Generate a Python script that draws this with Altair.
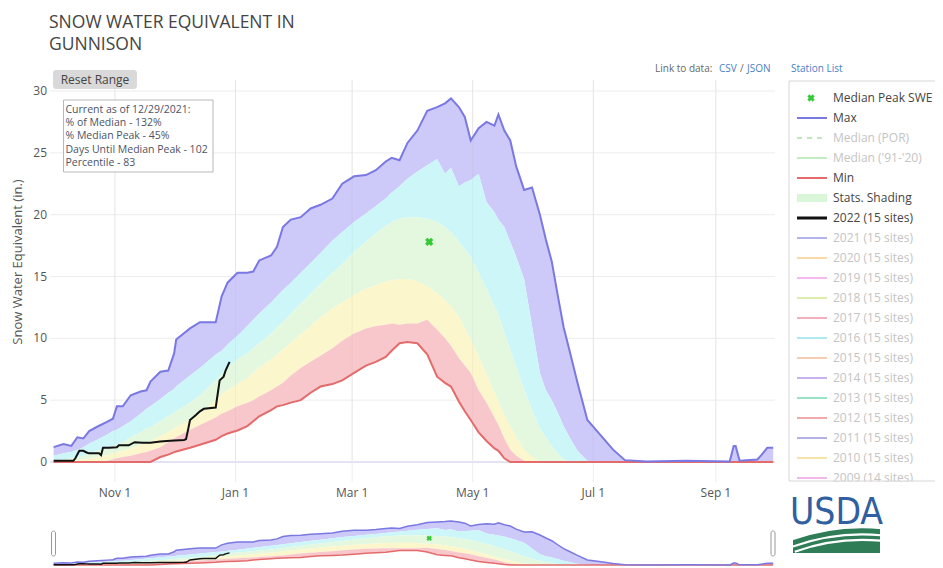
import math
import altair as alt
import pandas as pd

# ------------------------------------------------------------------ data
START = pd.Timestamp("2021-10-01")   # day 0 of the water year

days = [
    0, 5, 9, 12, 15, 18, 22, 27, 30, 32,
    35, 39, 44, 47, 49, 54, 58, 61, 62, 69,
    74, 82, 85, 88, 93, 98, 101, 104, 110, 113,
    116, 120, 125, 130, 135, 141, 146, 152, 158, 163,
    168, 171, 175, 179, 184, 189, 194, 198, 201, 205,
    208, 211, 215, 219, 223, 225, 228, 231, 234, 238,
    242, 246, 249, 252, 255, 258, 261, 265, 270, 276,
    283, 289, 300, 320, 342, 344, 345, 347, 356, 358,
    361, 364,
]
max_swe = [
    1.2, 1.45, 1.3, 2.0, 1.9, 2.5, 2.85, 3.25, 3.5, 4.5,
    4.5, 5.4, 5.7, 5.8, 6.5, 7.3, 7.4, 8.8, 9.9, 10.8,
    11.3, 11.3, 13.4, 14.5, 15.3, 15.3, 15.4, 16.3, 16.7, 17.4,
    19.0, 19.6, 19.8, 20.5, 20.8, 21.3, 22.5, 23.1, 23.2, 23.6,
    24.3, 24.6, 24.4, 25.8, 26.8, 28.4, 28.7, 29.0, 29.4, 28.7,
    27.9, 26.0, 27.0, 27.5, 27.2, 28.1, 26.8, 26.0, 23.9, 22.0,
    22.2, 20.0, 18.0, 16.2, 13.5, 10.9, 9.0, 6.4, 3.4, 2.3,
    1.0, 0.15, 0.05, 0.1, 0.05, 1.3, 1.3, 0.1, 0.2, 0.55,
    1.15, 1.15,
]
p90 = [
    0.5, 0.7, 0.8, 1.0, 1.2, 1.5, 1.8, 2.2, 2.5, 2.6,
    2.9, 3.3, 3.9, 4.3, 4.5, 5.1, 5.6, 5.9, 6.1, 7.0,
    7.6, 8.7, 9.0, 9.5, 10.2, 11.0, 11.5, 12.0, 12.9, 13.4,
    13.9, 14.5, 15.3, 16.1, 16.9, 17.9, 18.6, 19.4, 20.1, 20.7,
    21.3, 21.8, 22.3, 22.9, 23.5, 24.0, 24.5, 23.3, 23.8, 22.3,
    22.6, 22.8, 23.3, 21.0, 20.2, 19.6, 19.0, 17.8, 16.6, 14.8,
    11.0, 7.2, 5.8, 5.0, 4.0, 2.9, 2.0, 0.9, 0.1, 0.0,
    0.0, 0.0, 0.0, 0.0, 0.0, 0.0, 0.0, 0.0, 0.0, 0.0,
    0.0, 0.0,
]
p70 = [
    0.1, 0.2, 0.3, 0.4, 0.5, 0.7, 0.9, 1.1, 1.3, 1.4,
    1.6, 2.0, 2.4, 2.7, 2.8, 3.3, 3.7, 4.0, 4.1, 4.8,
    5.4, 6.6, 7.1, 7.6, 8.3, 8.8, 9.2, 9.6, 10.4, 10.9,
    11.3, 12.0, 12.8, 13.6, 14.4, 15.3, 16.0, 17.0, 17.8, 18.5,
    19.1, 19.4, 19.7, 19.8, 19.8, 19.7, 19.4, 19.0, 18.6, 17.8,
    17.2, 16.6, 15.3, 14.0, 12.6, 11.9, 10.5, 9.1, 7.7, 5.9,
    4.2, 2.7, 2.0, 1.3, 0.7, 0.2, 0.0, 0.0, 0.0, 0.0,
    0.0, 0.0, 0.0, 0.0, 0.0, 0.0, 0.0, 0.0, 0.0, 0.0,
    0.0, 0.0,
]
p30 = [
    0.0, 0.05, 0.1, 0.15, 0.2, 0.3, 0.4, 0.55, 0.7, 0.8,
    0.9, 1.1, 1.4, 1.6, 1.7, 2.1, 2.4, 2.7, 2.8, 3.4,
    3.9, 5.0, 5.5, 5.8, 6.3, 6.8, 7.2, 7.6, 8.3, 8.7,
    9.1, 9.6, 10.3, 11.0, 11.7, 12.4, 12.9, 13.5, 14.0, 14.3,
    14.6, 14.7, 14.8, 14.8, 14.6, 14.2, 13.6, 13.1, 12.6, 11.7,
    10.8, 9.9, 8.5, 7.1, 5.6, 4.9, 3.8, 2.9, 2.0, 1.0,
    0.4, 0.0, 0.0, 0.0, 0.0, 0.0, 0.0, 0.0, 0.0, 0.0,
    0.0, 0.0, 0.0, 0.0, 0.0, 0.0, 0.0, 0.0, 0.0, 0.0,
    0.0, 0.0,
]
p10 = [
    0.0, 0.0, 0.0, 0.0, 0.0, 0.0, 0.0, 0.1, 0.2, 0.3,
    0.4, 0.5, 0.7, 0.8, 0.9, 1.2, 1.6, 1.9, 2.0, 2.6,
    3.0, 3.6, 3.9, 4.1, 4.5, 4.8, 5.0, 5.3, 5.8, 6.1,
    6.4, 7.0, 7.6, 8.1, 8.6, 9.2, 9.8, 10.4, 10.8, 11.0,
    11.1, 11.2, 11.1, 11.2, 11.2, 11.5, 10.7, 10.0, 9.4, 8.4,
    7.8, 7.2, 5.8, 4.8, 3.6, 3.0, 1.9, 1.0, 0.5, 0.1,
    0.0, 0.0, 0.0, 0.0, 0.0, 0.0, 0.0, 0.0, 0.0, 0.0,
    0.0, 0.0, 0.0, 0.0, 0.0, 0.0, 0.0, 0.0, 0.0, 0.0,
    0.0, 0.0,
]
min_swe = [
    0.0, 0.0, 0.0, 0.0, 0.0, 0.0, 0.0, 0.0, 0.0, 0.0,
    0.0, 0.0, 0.0, 0.0, 0.0, 0.4, 0.6, 0.8, 0.85, 1.15,
    1.4, 1.8, 2.1, 2.3, 2.55, 2.9, 3.3, 3.7, 4.2, 4.5,
    4.6, 4.8, 5.0, 5.6, 6.1, 6.3, 6.6, 7.2, 7.8, 8.1,
    8.5, 9.0, 9.6, 9.7, 9.6, 8.7, 6.9, 6.4, 6.1, 4.9,
    4.1, 3.4, 2.4, 1.7, 1.1, 0.9, 0.3, 0.0, 0.0, 0.0,
    0.0, 0.0, 0.0, 0.0, 0.0, 0.0, 0.0, 0.0, 0.0, 0.0,
    0.0, 0.0, 0.0, 0.0, 0.0, 0.0, 0.0, 0.0, 0.0, 0.0,
    0.0, 0.0,
]

wy2022_days = [0, 10, 11, 13, 15, 17, 18, 23, 24, 25, 28, 32, 33, 38, 41, 45,
               49, 54, 59, 66, 67, 68, 69, 72, 74, 76, 82, 83, 84, 86, 87, 89]
wy2022_swe = [0.1, 0.1, 0.3, 0.9, 0.9, 0.75, 0.7, 0.7, 0.55, 1.15, 1.15, 1.2,
              1.35, 1.35, 1.6, 1.55, 1.55, 1.65, 1.72, 1.78, 1.85, 2.6, 3.4,
              3.8, 4.1, 4.3, 4.4, 5.5, 6.6, 6.9, 7.4, 8.1]

peak_day = [190]
peak_swe = [17.8]

y_ticks = [0, 5, 10, 15, 20, 25, 30]
x_tick_dates = ["2021-11-01", "2022-01-01", "2022-03-01", "2022-05-01", "2022-07-01", "2022-09-01"]
x_tick_labels = ["Nov 1", "Jan 1", "Mar 1", "May 1", "Jul 1", "Sep 1"]

title_lines = ["SNOW WATER EQUIVALENT IN", "GUNNISON"]
info_lines = [
    "Current as of 12/29/2021:",
    "% of Median - 132%",
    "% Median Peak - 45%",
    "Days Until Median Peak - 102",
    "Percentile - 83",
]

legend_labels = [
    "Median Peak SWE", "Max", "Median (POR)", "Median ('91-'20)", "Min",
    "Stats. Shading", "2022 (15 sites)", "2021 (15 sites)", "2020 (15 sites)",
    "2019 (15 sites)", "2018 (15 sites)", "2017 (15 sites)", "2016 (15 sites)",
    "2015 (15 sites)", "2014 (15 sites)", "2013 (15 sites)", "2012 (15 sites)",
    "2011 (15 sites)", "2010 (15 sites)", "2009 (14 sites)",
]
legend_kind = ["marker", "line", "dash", "line", "line", "shade", "line",
               "line", "line", "line", "line", "line", "line", "line", "line",
               "line", "line", "line", "line", "line"]
legend_active = [True, True, False, False, True, True, True, False, False,
                 False, False, False, False, False, False, False, False,
                 False, False, False]
legend_colors = ["#36c936", "#7a78e2", "#bfe8bf", "#c2ecc2", "#e46b6b",
                 "#d9f6d9", "#111111", "#b3b3ef", "#fbd9a6", "#f5b8ef",
                 "#dbefaa", "#f2b0bd", "#ace9f1", "#f6cdb4", "#c9b2ef",
                 "#98e3c6", "#f1aaaa", "#b2b2e6", "#f5e3aa", "#f2b8eb"]

# ------------------------------------------------------------------ tables
def to_dates(ds):
    return [(START + pd.Timedelta(days=d)).strftime("%Y-%m-%dT%H:%M:%S") for d in ds]

stats = pd.DataFrame({"date": to_dates(days), "max": max_swe, "p90": p90,
                      "p70": p70, "p30": p30, "p10": p10, "min": min_swe})
cur = pd.DataFrame({"date": to_dates(wy2022_days), "swe": wy2022_swe})
peak = pd.DataFrame({"date": to_dates(peak_day), "swe": peak_swe})
ygrid = pd.DataFrame({"v": y_ticks})
xgrid = pd.DataFrame({"date": [d + "T00:00:00" for d in x_tick_dates], "label": x_tick_labels})
info = pd.DataFrame({"i": list(range(len(info_lines))), "t": info_lines})
title_df = pd.DataFrame({"i": list(range(len(title_lines))), "t": title_lines})
leg = pd.DataFrame({
    "i": list(range(len(legend_labels))),
    "label": legend_labels,
    "kind": legend_kind,
    "color": legend_colors,
    "tcolor": ["#444444" if a else "#c4c4c4" for a in legend_active],
    "w": [3 if l.startswith("2022") else 2 for l in legend_labels],
})
dummy = alt.Data(values=[{"a": 1}])

# ------------------------------------------------------------------ scales
FONT = "Open Sans"
xs = alt.Scale(domain=[alt.DateTime(year=2021, month=10, date=1),
                       alt.DateTime(year=2022, month=9, date=30)],
               range=[45.6, 765.2])
ys = alt.Scale(domain=[0, 30], range=[454, 83], nice=False, zero=False)
ys_mini = alt.Scale(domain=[0, 30], range=[557, 512], nice=False, zero=False)
ys_leg = alt.Scale(domain=[0, 19], range=[90, 470], nice=False, zero=False)
ys_info = alt.Scale(domain=[0, 4], range=[104.5, 158], nice=False, zero=False)
ys_title = alt.Scale(domain=[0, 1], range=[19.5, 42], nice=False, zero=False)

def X():
    return alt.X("date:T", scale=xs, axis=None)

def Y(field, scale):
    return alt.Y(f"{field}:Q", scale=scale, axis=None)

layers = []

# grid
layers.append(alt.Chart(ygrid).transform_filter("datum.v > 0").mark_rule(color="#ededed", strokeWidth=1)
              .encode(y=Y("v", ys), x=alt.value(42), x2=alt.value(767)))
layers.append(alt.Chart(xgrid).mark_rule(color="#ededed", strokeWidth=1)
              .encode(x=X(), y=alt.value(72), y2=alt.value(474)))
layers.append(alt.Chart(ygrid).transform_filter("datum.v == 0").mark_rule(color="#e3e3f3", strokeWidth=2)
              .encode(y=Y("v", ys), x=alt.value(42), x2=alt.value(767)))

bands = [("max", "p90", "#cdc9f8"), ("p90", "p70", "#cdf6f8"),
         ("p70", "p30", "#e3f8df"), ("p30", "p10", "#fbf6cb"),
         ("p10", "min", "#f8c7cc")]

def stat_layers(yscale, lw, msize, band_opacity):
    out = []
    for top, bot, col in bands:
        out.append(alt.Chart(stats).mark_area(color=col, opacity=band_opacity)
                   .encode(x=X(), y=Y(top, yscale), y2=alt.Y2(f"{bot}:Q")))
    out.append(alt.Chart(stats).mark_line(color="#e46b6b", strokeWidth=lw)
               .encode(x=X(), y=Y("min", yscale)))
    out.append(alt.Chart(stats).mark_line(color="#7a78e2", strokeWidth=lw)
               .encode(x=X(), y=Y("max", yscale)))
    out.append(alt.Chart(cur).mark_line(color="#111111", strokeWidth=lw)
               .encode(x=X(), y=Y("swe", yscale)))
    out.append(alt.Chart(peak).mark_point(shape="cross", angle=45, filled=True,
                                          size=msize, color="#36c936", opacity=1)
               .encode(x=X(), y=Y("swe", yscale)))
    return out

layers += stat_layers(ys, 2, 70, 1)

# faint grid showing through the shading (as in the reference)
layers.append(alt.Chart(xgrid).mark_rule(color="#aaaaaa", strokeWidth=1, opacity=0.12)
              .encode(x=X(), y=alt.value(72), y2=alt.value(452)))

# axes labels
layers.append(alt.Chart(ygrid).mark_text(align="right", baseline="middle", fontSize=12,
                                         font=FONT, color="#555555")
              .encode(y=Y("v", ys), x=alt.value(39), text="v:Q"))
layers.append(alt.Chart(xgrid).mark_text(align="center", baseline="middle", fontSize=12,
                                         font=FONT, color="#555555")
              .encode(x=X(), y=alt.value(485), text="label:N"))
layers.append(alt.Chart(dummy).mark_text(angle=270, align="center", baseline="middle",
                                         fontSize=13, font=FONT, color="#555555")
              .encode(x=alt.value(9.5), y=alt.value(254),
                      text=alt.value("Snow Water Equivalent (in.)")))

# title
layers.append(alt.Chart(title_df).mark_text(align="left", baseline="alphabetic", fontSize=17.5,
                                            font=FONT, color="#444444")
              .encode(x=alt.value(41), y=Y("i", ys_title), text="t:N"))

# reset range button
layers.append(alt.Chart(dummy).mark_rect(color="#d9d9d9", cornerRadius=3)
              .encode(x=alt.value(45), x2=alt.value(129), y=alt.value(62), y2=alt.value(81)))
layers.append(alt.Chart(dummy).mark_text(align="center", baseline="middle", fontSize=12,
                                         font=FONT, color="#444444")
              .encode(x=alt.value(87), y=alt.value(71.5), text=alt.value("Reset Range")))

# info box
layers.append(alt.Chart(dummy).mark_rect(fill="white", stroke="#b8b8b8", strokeWidth=1)
              .encode(x=alt.value(55.5), x2=alt.value(205), y=alt.value(92), y2=alt.value(164)))
layers.append(alt.Chart(info).mark_text(align="left", baseline="alphabetic", fontSize=10.5,
                                        font=FONT, color="#4d5366")
              .encode(x=alt.value(57.5), y=Y("i", ys_info), text="t:N"))

# links
link_grey = "#666666"
link_blue = "#4a80c8"
for txt, xpos, col in [("Link to data:", 647, link_grey), ("CSV", 711, link_blue),
                       ("/", 732, link_grey), ("JSON", 739, link_blue),
                       ("Station List", 783, link_blue)]:
    layers.append(alt.Chart(dummy).mark_text(align="left", baseline="middle", fontSize=10,
                                             font=FONT, color=col)
                  .encode(x=alt.value(xpos), y=alt.value(61), text=alt.value(txt)))

# USDA logo: green field with white sweeping stripes, then the letters on top
layers.append(alt.Chart(dummy).mark_rect(color="#2f7d57")
              .encode(x=alt.value(785), x2=alt.value(872), y=alt.value(519), y2=alt.value(545)))
CX, CY, R0 = 854.5, 732.0, 211.7
T1, T2 = 2 * math.pi - 0.345, 2 * math.pi + 0.09
layers.append(alt.Chart(dummy).mark_arc(innerRadius=R0, outerRadius=R0 + 40, color="white")
              .encode(x=alt.value(CX), y=alt.value(CY), theta=alt.value(T1), theta2=alt.value(T2)))
for dr in (5, 10.5):
    layers.append(alt.Chart(dummy).mark_arc(innerRadius=R0 - dr - 2.2, outerRadius=R0 - dr, color="white")
                  .encode(x=alt.value(CX), y=alt.value(CY), theta=alt.value(T1), theta2=alt.value(T2)))
layers.append(alt.Chart(dummy).mark_text(align="center", baseline="alphabetic", fontSize=37,
                                         font="Liberation Sans Narrow, DejaVu Sans Condensed, Roboto, sans-serif",
                                         color="#30609f")
              .encode(x=alt.value(828.5), y=alt.value(516), text=alt.value("USDA")))

# legend
LY = alt.Y("i:Q", scale=ys_leg, axis=None)
layers.append(alt.Chart(leg).transform_filter("datum.kind == 'line'").mark_rule()
              .encode(x=alt.value(789), x2=alt.value(819), y=LY,
                      color=alt.Color("color:N", scale=None),
                      strokeWidth=alt.StrokeWidth("w:Q", scale=None)))
layers.append(alt.Chart(leg).transform_filter("datum.kind == 'dash'").mark_rule(strokeDash=[5, 5], strokeWidth=2)
              .encode(x=alt.value(789), x2=alt.value(819), y=LY,
                      color=alt.Color("color:N", scale=None)))
layers.append(alt.Chart(leg).transform_filter("datum.kind == 'shade'").mark_rule(strokeWidth=8)
              .encode(x=alt.value(789), x2=alt.value(819), y=LY,
                      color=alt.Color("color:N", scale=None)))
layers.append(alt.Chart(leg).transform_filter("datum.kind == 'marker'")
              .mark_point(shape="cross", angle=45, filled=True, size=55, opacity=1)
              .encode(x=alt.value(803), y=LY, color=alt.Color("color:N", scale=None)))
layers.append(alt.Chart(leg).mark_text(align="left", baseline="middle", fontSize=12, font=FONT)
              .encode(x=alt.value(825), y=LY, text="label:N",
                      color=alt.Color("tcolor:N", scale=None)))
# clip the last legend row at the frame
layers.append(alt.Chart(dummy).mark_rect(color="white")
              .encode(x=alt.value(778), x2=alt.value(927), y=alt.value(473.5), y2=alt.value(481)))
# legend frame
layers.append(alt.Chart(dummy).mark_rule(color="#d6d6d6", strokeWidth=1)
              .encode(x=alt.value(781), y=alt.value(73), y2=alt.value(473)))
layers.append(alt.Chart(dummy).mark_rule(color="#d6d6d6", strokeWidth=1)
              .encode(x=alt.value(781), x2=alt.value(927), y=alt.value(73)))
layers.append(alt.Chart(dummy).mark_rule(color="#d6d6d6", strokeWidth=1)
              .encode(x=alt.value(781), x2=alt.value(927), y=alt.value(473)))

# range slider (mini chart)
layers += stat_layers(ys_mini, 1.5, 30, 1)
for hx in (43.5, 763):
    layers.append(alt.Chart(dummy).mark_rect(fill="white", stroke="#999999", strokeWidth=1, cornerRadius=2)
                  .encode(x=alt.value(hx), x2=alt.value(hx + 4), y=alt.value(523), y2=alt.value(548)))

chart = (alt.layer(*layers)
         .resolve_scale(y="independent", color="independent", strokeWidth="independent")
         .properties(width=927, height=560, padding=0,
                     autosize=alt.AutoSizeParams(type="none"))
         .configure_view(stroke=None))

chart.save("out.html", embed_options={"renderer": "svg", "actions": False})
